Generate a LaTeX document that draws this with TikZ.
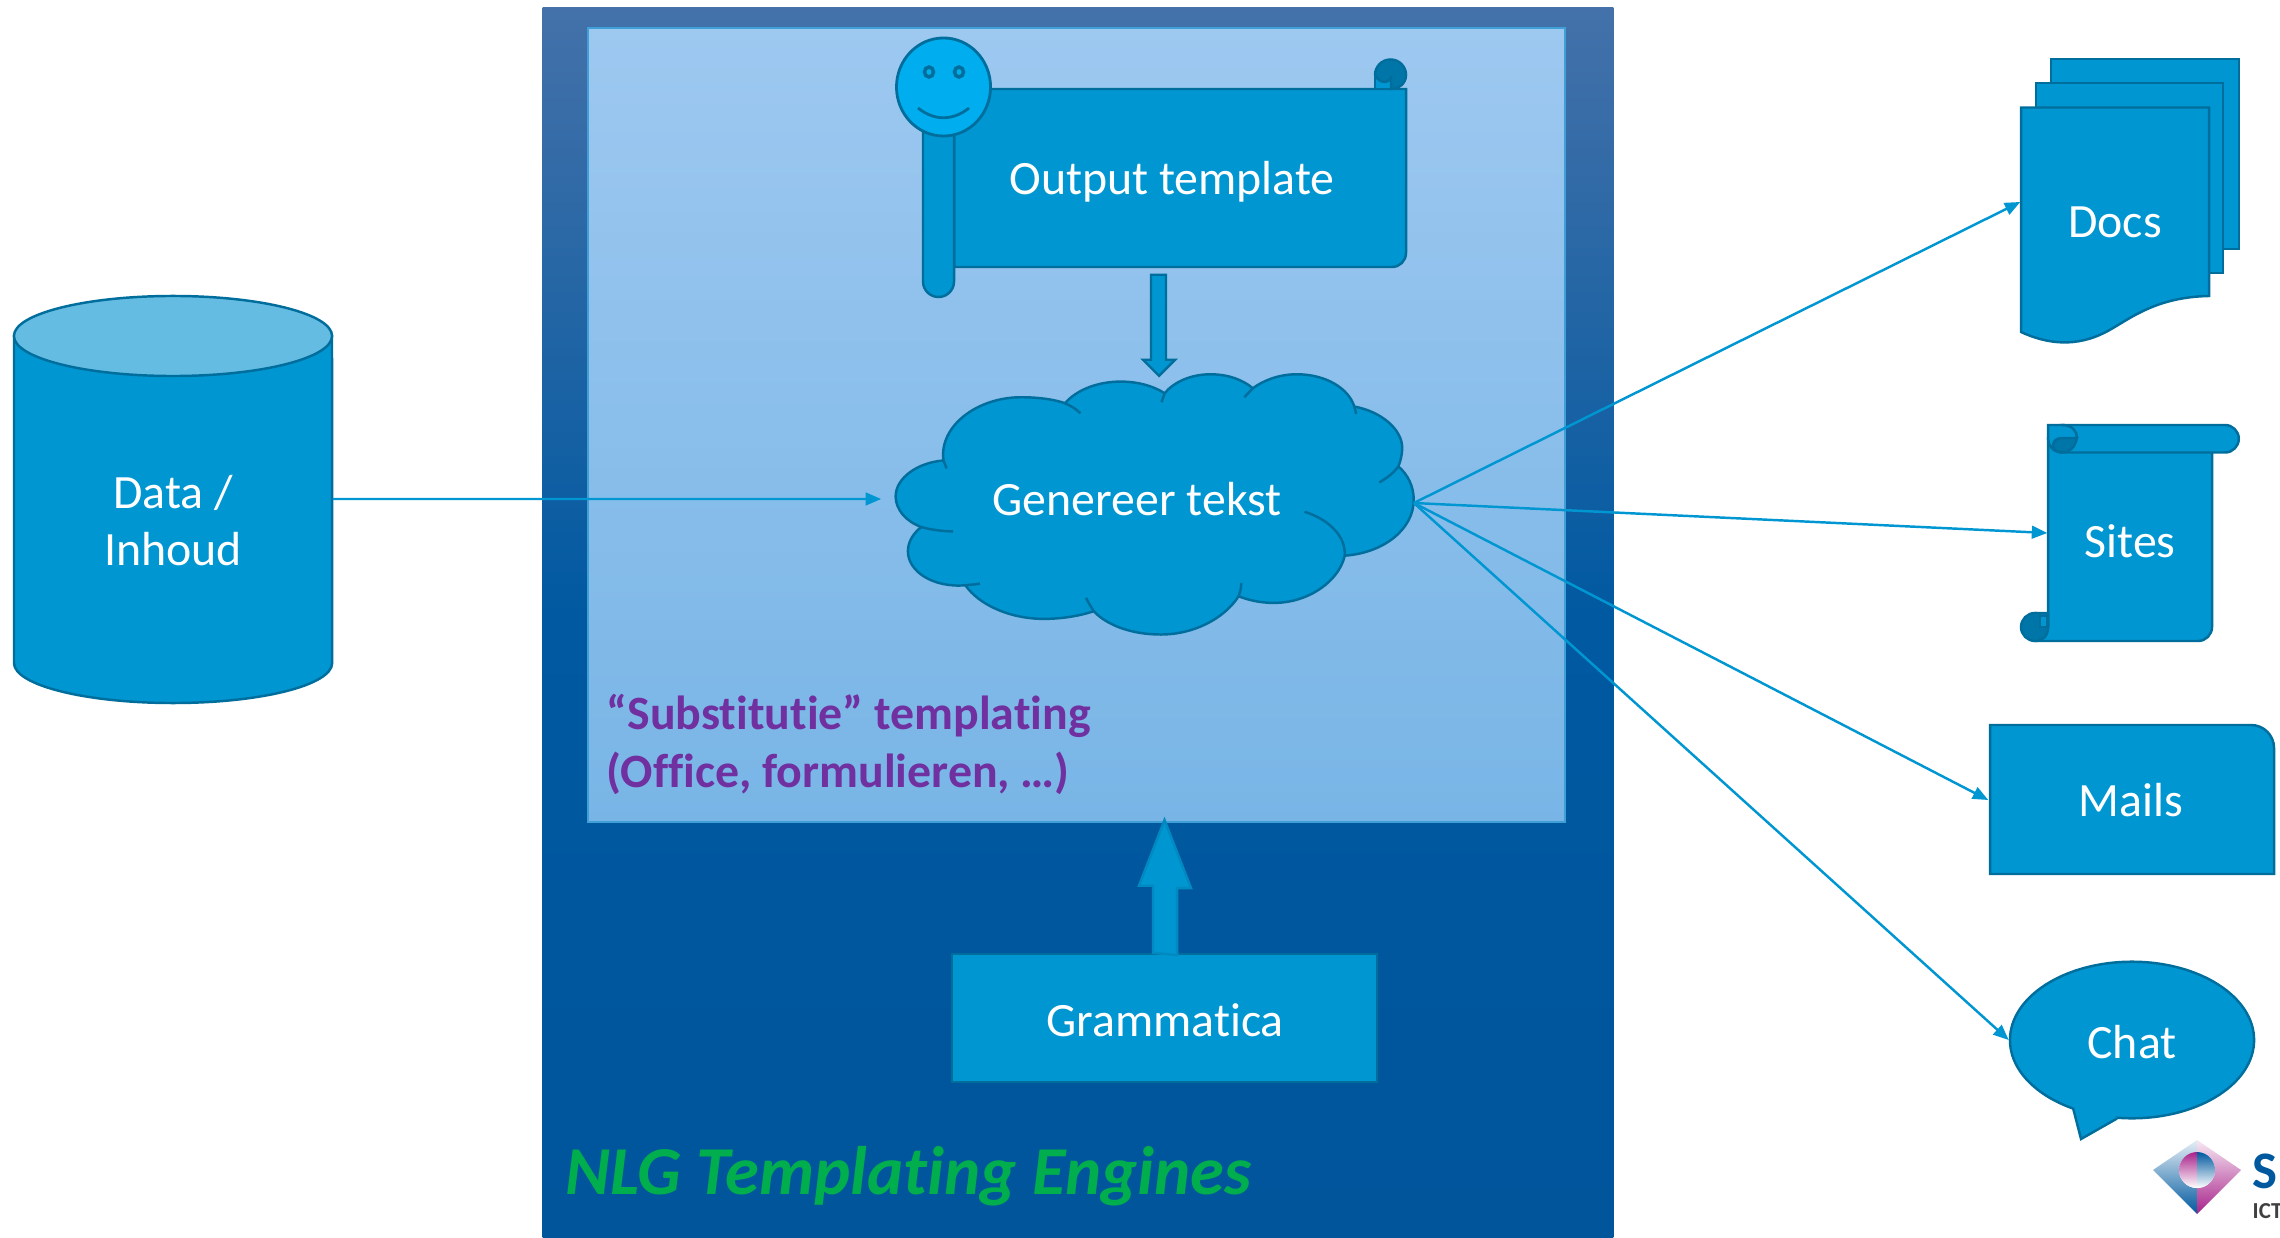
\documentclass[tikz,border=0pt]{standalone}
\usepackage{fontspec}
\setmainfont{Carlito}[Ligatures=NoCommon]
\usetikzlibrary{shapes.geometric, arrows.meta, positioning, calc}
\definecolor{ShapeBlue}{HTML}{0096D1}
\definecolor{EdgeBlue}{HTML}{006E9C}
\definecolor{CurlBlue}{HTML}{0075A8}
\definecolor{LidBlue}{HTML}{65BCE3}
\definecolor{FaceBlue}{HTML}{00AEEF}
\definecolor{EngineTop}{HTML}{4471A9}
\definecolor{EngineMid}{HTML}{0059A1}
\definecolor{EngineLow}{HTML}{00559B}
\definecolor{InnerTop}{HTML}{9DC8F0}
\definecolor{InnerLow}{HTML}{78B5E6}
\definecolor{InnerEdge}{HTML}{3FA0D8}
\definecolor{TitleGreen}{HTML}{00AE4D}
\definecolor{NotePurple}{HTML}{7030A0}
\definecolor{LogoBlue}{HTML}{00599F}
\definecolor{LogoPink}{HTML}{A8228A}

\begin{document}
\begin{tikzpicture}[
    x=0.01cm, y=-0.01cm,
    shapeedge/.style={draw=EdgeBlue, fill=ShapeBlue, line width=0.7pt},
    shapetext/.style={text=white, inner sep=0pt, align=center,
                      font=\fontsize{13.6}{16.2}\selectfont},
    curl/.style={draw=EdgeBlue, fill=CurlBlue, line width=0.7pt},
    flow/.style={ShapeBlue, line width=0.7pt, -{Triangle[length=4.4pt, width=3.6pt]}}
]
    \useasboundingbox (0,0) rectangle (2280,1237);

    % Engine panels
    \node[rectangle, inner sep=0pt, minimum width=10.7cm, minimum height=12.29cm,
          top color=EngineTop, bottom color=EngineLow, middle color=EngineMid] (engine) at (1078,622.5) {};
    \node[rectangle, inner sep=0pt, minimum width=9.77cm, minimum height=7.94cm, draw=InnerEdge, line width=0.5pt,
          top color=InnerTop, bottom color=InnerLow] (inner) at (1076.5,425) {};
    \node[anchor=north west, inner sep=0pt, text=NotePurple, align=left,
          font=\fontsize{13.6}{16.5}\selectfont\bfseries] (note) at (606,693) {“Substitutie” templating\\(Office, formulieren, …)};
    \node[anchor=base west, inner sep=0pt, text=TitleGreen,
          font=\fontsize{19.5}{21}\selectfont\bfseries\itshape] (title) at (565,1194) {NLG Templating Engines};

    % Data store
    \draw[shapeedge] (14,336) -- (14,663) arc[start angle=180, end angle=360, x radius=1.59cm, y radius=0.4cm] -- (332,336) -- cycle;
    \draw[shapeedge, fill=LidBlue] (173,336) ellipse [x radius=1.59cm, y radius=0.4cm];
    \node[shapetext, minimum width=3.18cm] (data) at (173,521) {Data /\\Inhoud};

    % Output template scroll
    \draw[shapeedge] (954,89) -- (1406,89) -- (1406,253) arc[start angle=0, end angle=-90, radius=0.14cm] -- (954,267) -- cycle;
    \draw[shapeedge] (1375,89) -- (1375,75) -- (1391,75) -- (1391,89) -- cycle;
    \draw[curl] (1375,75) arc[start angle=180, end angle=0, radius=0.155cm]
        .. controls (1406,84) and (1398,89) .. (1391,89) -- (1391,76)
        .. controls (1391,83) and (1380,85) .. (1375,75) -- cycle;
    \draw[shapeedge] (923,100) -- (923,281.5) arc[start angle=180, end angle=360, radius=0.155cm] -- (954,100) -- cycle;
    \node[shapetext, minimum height=1.74cm] (tmpl) at (1172,182) {Output template};

    % Smiley on the scroll
    \node[ellipse, inner sep=0pt, draw=EdgeBlue, fill=FaceBlue, line width=0.8pt,
          minimum width=0.94cm, minimum height=0.98cm] (face) at (943.5,87) {};
    \draw[EdgeBlue, line width=1pt] (929,72) ellipse [x radius=0.045cm, y radius=0.05cm];
    \draw[EdgeBlue, line width=1pt] (959,72) ellipse [x radius=0.045cm, y radius=0.05cm];
    \draw[EdgeBlue, line width=0.8pt] (918,108) .. controls (934,121) and (953,121) .. (969,108);

    % Cloud
    \begin{scope}[shift={(860,340)}, x=0.003827cm, y=-0.003333cm]
        \draw[shapeedge] (160,562) .. controls (120,545) and (93,510) .. (93,470)
            .. controls (93,415) and (150,368) .. (218,362)
            .. controls (205,260) and (305,172) .. (420,172)
            .. controls (465,172) and (505,178) .. (535,190)
            .. controls (565,150) and (620,125) .. (680,125)
            .. controls (725,125) and (765,138) .. (795,160)
            .. controls (820,125) and (865,103) .. (915,103)
            .. controls (960,103) and (1000,120) .. (1025,145)
            .. controls (1055,120) and (1095,103) .. (1140,103)
            .. controls (1215,103) and (1275,145) .. (1290,200)
            .. controls (1360,215) and (1415,268) .. (1415,325)
            .. controls (1415,345) and (1410,365) .. (1405,380)
            .. controls (1430,405) and (1445,440) .. (1445,480)
            .. controls (1445,570) and (1365,640) .. (1265,648)
            .. controls (1250,725) and (1170,790) .. (1080,790)
            .. controls (1045,790) and (1015,782) .. (988,770)
            .. controls (950,838) and (870,885) .. (785,885)
            .. controls (710,885) and (645,858) .. (610,815)
            .. controls (570,830) and (525,838) .. (480,838)
            .. controls (390,838) and (310,795) .. (275,737)
            .. controls (190,745) and (125,695) .. (125,635)
            .. controls (125,605) and (140,580) .. (160,562) -- cycle;
        \draw[EdgeBlue, line width=0.7pt] (160,562) .. controls (185,570) and (215,575) .. (243,575);
        \draw[EdgeBlue, line width=0.7pt] (218,362) -- (226,386);
        \draw[EdgeBlue, line width=0.7pt] (535,190) .. controls (550,198) and (565,208) .. (575,220);
        \draw[EdgeBlue, line width=0.7pt] (795,160) -- (787,187);
        \draw[EdgeBlue, line width=0.7pt] (1025,145) -- (1003,172);
        \draw[EdgeBlue, line width=0.7pt] (1290,200) -- (1295,222);
        \draw[EdgeBlue, line width=0.7pt] (1405,380) .. controls (1392,400) and (1375,415) .. (1355,428);
        \draw[EdgeBlue, line width=0.7pt] (1265,648) .. controls (1268,590) and (1225,540) .. (1160,516);
        \draw[EdgeBlue, line width=0.7pt] (988,770) .. controls (992,757) and (995,745) .. (995,730);
        \draw[EdgeBlue, line width=0.7pt] (610,815) .. controls (603,802) and (595,788) .. (590,775);
        \draw[EdgeBlue, line width=0.7pt] (275,737) .. controls (290,735) and (300,735) .. (313,732);
    \end{scope}
    \node[shapetext, minimum width=5.1cm] (gen) at (1137,499) {Genereer tekst};

    % Grammar box and block arrows
    \node[shapeedge, shapetext, rectangle, minimum width=4.25cm, minimum height=1.28cm] (gram) at (1164.5,1018) {};
    \node[shapetext] (gramtext) at (1165,1020) {Grammatica};
    \draw[shapeedge, draw=ShapeBlue!70!EdgeBlue] ([xshift=-0.115cm]gram.north) -- ++(0,-67) -- ++(-14,0) -- ([yshift=0.03cm]gram.north |- inner.south)
        -- ++(26.5,68) -- ++(-14,0) -- ++(0,67) -- cycle;
    \draw[shapeedge] ([xshift=-0.21cm, yshift=-0.05cm]tmpl.south) -- ++(0,85) -- ++(-8,0) -- ++(16,16) -- ++(16,-16)
        -- ++(-9,0) -- ++(0,-85) -- cycle;

    % Documents
    \draw[shapeedge] (2051,59) rectangle (2239,249);
    \draw[shapeedge] (2036,83) rectangle (2223,273);
    \draw[shapeedge] (2021,107.5) -- (2209,107.5) -- (2209,296)
        .. controls (2160,297) and (2135,315) .. (2113,328)
        .. controls (2090,342) and (2060,350) .. (2021,332) -- cycle;
    \node[shapetext, minimum width=1.88cm] (docs) at (2115,222) {Docs};

    % Sites scroll
    \draw[shapeedge] (2062,425) arc[start angle=90, end angle=180, radius=0.14cm] -- (2048,627)
        -- (2035,627) -- (2035,641) -- (2198,641) arc[start angle=270, end angle=360, radius=0.14cm]
        -- (2212,440) -- cycle;
    \draw[shapeedge] (2062,425) -- (2225,425) arc[start angle=90, end angle=-90, radius=0.1375cm] -- (2062,452.5)
        .. controls (2054,452.5) and (2048,446) .. (2048,439) -- (2048,425) -- cycle;
    \draw[curl] (2062,452.5) .. controls (2050,452.5) and (2050,438) .. (2062,438) -- (2077,438)
        .. controls (2075,447) and (2070,452.5) .. (2062,452.5) -- cycle;
    \draw[EdgeBlue, line width=0.7pt] (2062,425) .. controls (2072,425) and (2077,431) .. (2077,438);
    \draw[curl] (2035,613) -- (2048,613) -- (2048,627) .. controls (2048,636) and (2043,641) .. (2035,641)
        arc[start angle=270, end angle=90, radius=0.14cm] -- cycle;
    \draw[shapeedge, line width=0.4pt] (2040,616) rectangle (2047,627);
    \node[shapetext, minimum width=1.64cm] (sites) at (2130,541) {Sites};

    % Mails
    \draw[shapeedge] (1990,725) -- (2251,725) arc[start angle=90, end angle=0, radius=0.23cm] -- (2274,874) -- (1990,874) -- cycle;
    \node[shapetext, minimum width=2.84cm] (mails) at (2131,800) {Mails};

    % Chat balloon
    \node[shapeedge, ellipse, minimum width=2.44cm, minimum height=1.565cm] (chat) at (2132,1040) {};
    \node[shapetext] (chattext) at (2132,1042) {Chat};
    \fill[ShapeBlue] (2073,1108) -- (2081,1139) -- (2117,1118) -- (2105,1100) -- cycle;
    \draw[EdgeBlue, line width=0.7pt] (2073,1108) -- (2081,1139) -- (2117,1118.5);

    % Connectors
    \draw[flow] ([yshift=0.22cm]data.east) -- (gen.west);
    \draw[flow] ([xshift=0.21cm, yshift=-0.04cm]gen.east) -- ([yshift=0.2cm]docs.west);
    \draw[flow] ([xshift=0.21cm, yshift=-0.04cm]gen.east) -- ([yshift=0.08cm]sites.west);
    \draw[flow] ([xshift=0.21cm, yshift=-0.04cm]gen.east) -- (mails.west);
    \draw[flow] ([xshift=0.21cm, yshift=-0.04cm]gen.east) -- (chat.west);

    % Logo
    \shade[top color=LogoBlue!10, bottom color=LogoBlue] (2197,1140) -- (2153,1170) -- (2197,1214) -- cycle;
    \shade[top color=LogoPink!10, bottom color=LogoPink] (2197,1140) -- (2241,1170) -- (2197,1214) -- cycle;
    \fill[white] (2197,1170) circle [radius=0.18cm];
    \shade[top color=LogoPink, bottom color=white] (2197,1152) arc[start angle=90, end angle=270, radius=0.18cm] -- cycle;
    \shade[top color=LogoBlue, bottom color=white] (2197,1152) arc[start angle=90, end angle=-90, radius=0.18cm] -- cycle;
    \node[anchor=base west, inner sep=0pt, text=LogoBlue, font=\fontsize{15}{16}\selectfont\bfseries] (logoname) at (2252,1188) {S};
    \node[anchor=base west, inner sep=0pt, text=black!75, font=\fontsize{6.5}{8}\selectfont\bfseries] (logotag) at (2252,1218) {ICT};
\end{tikzpicture}
\end{document}
